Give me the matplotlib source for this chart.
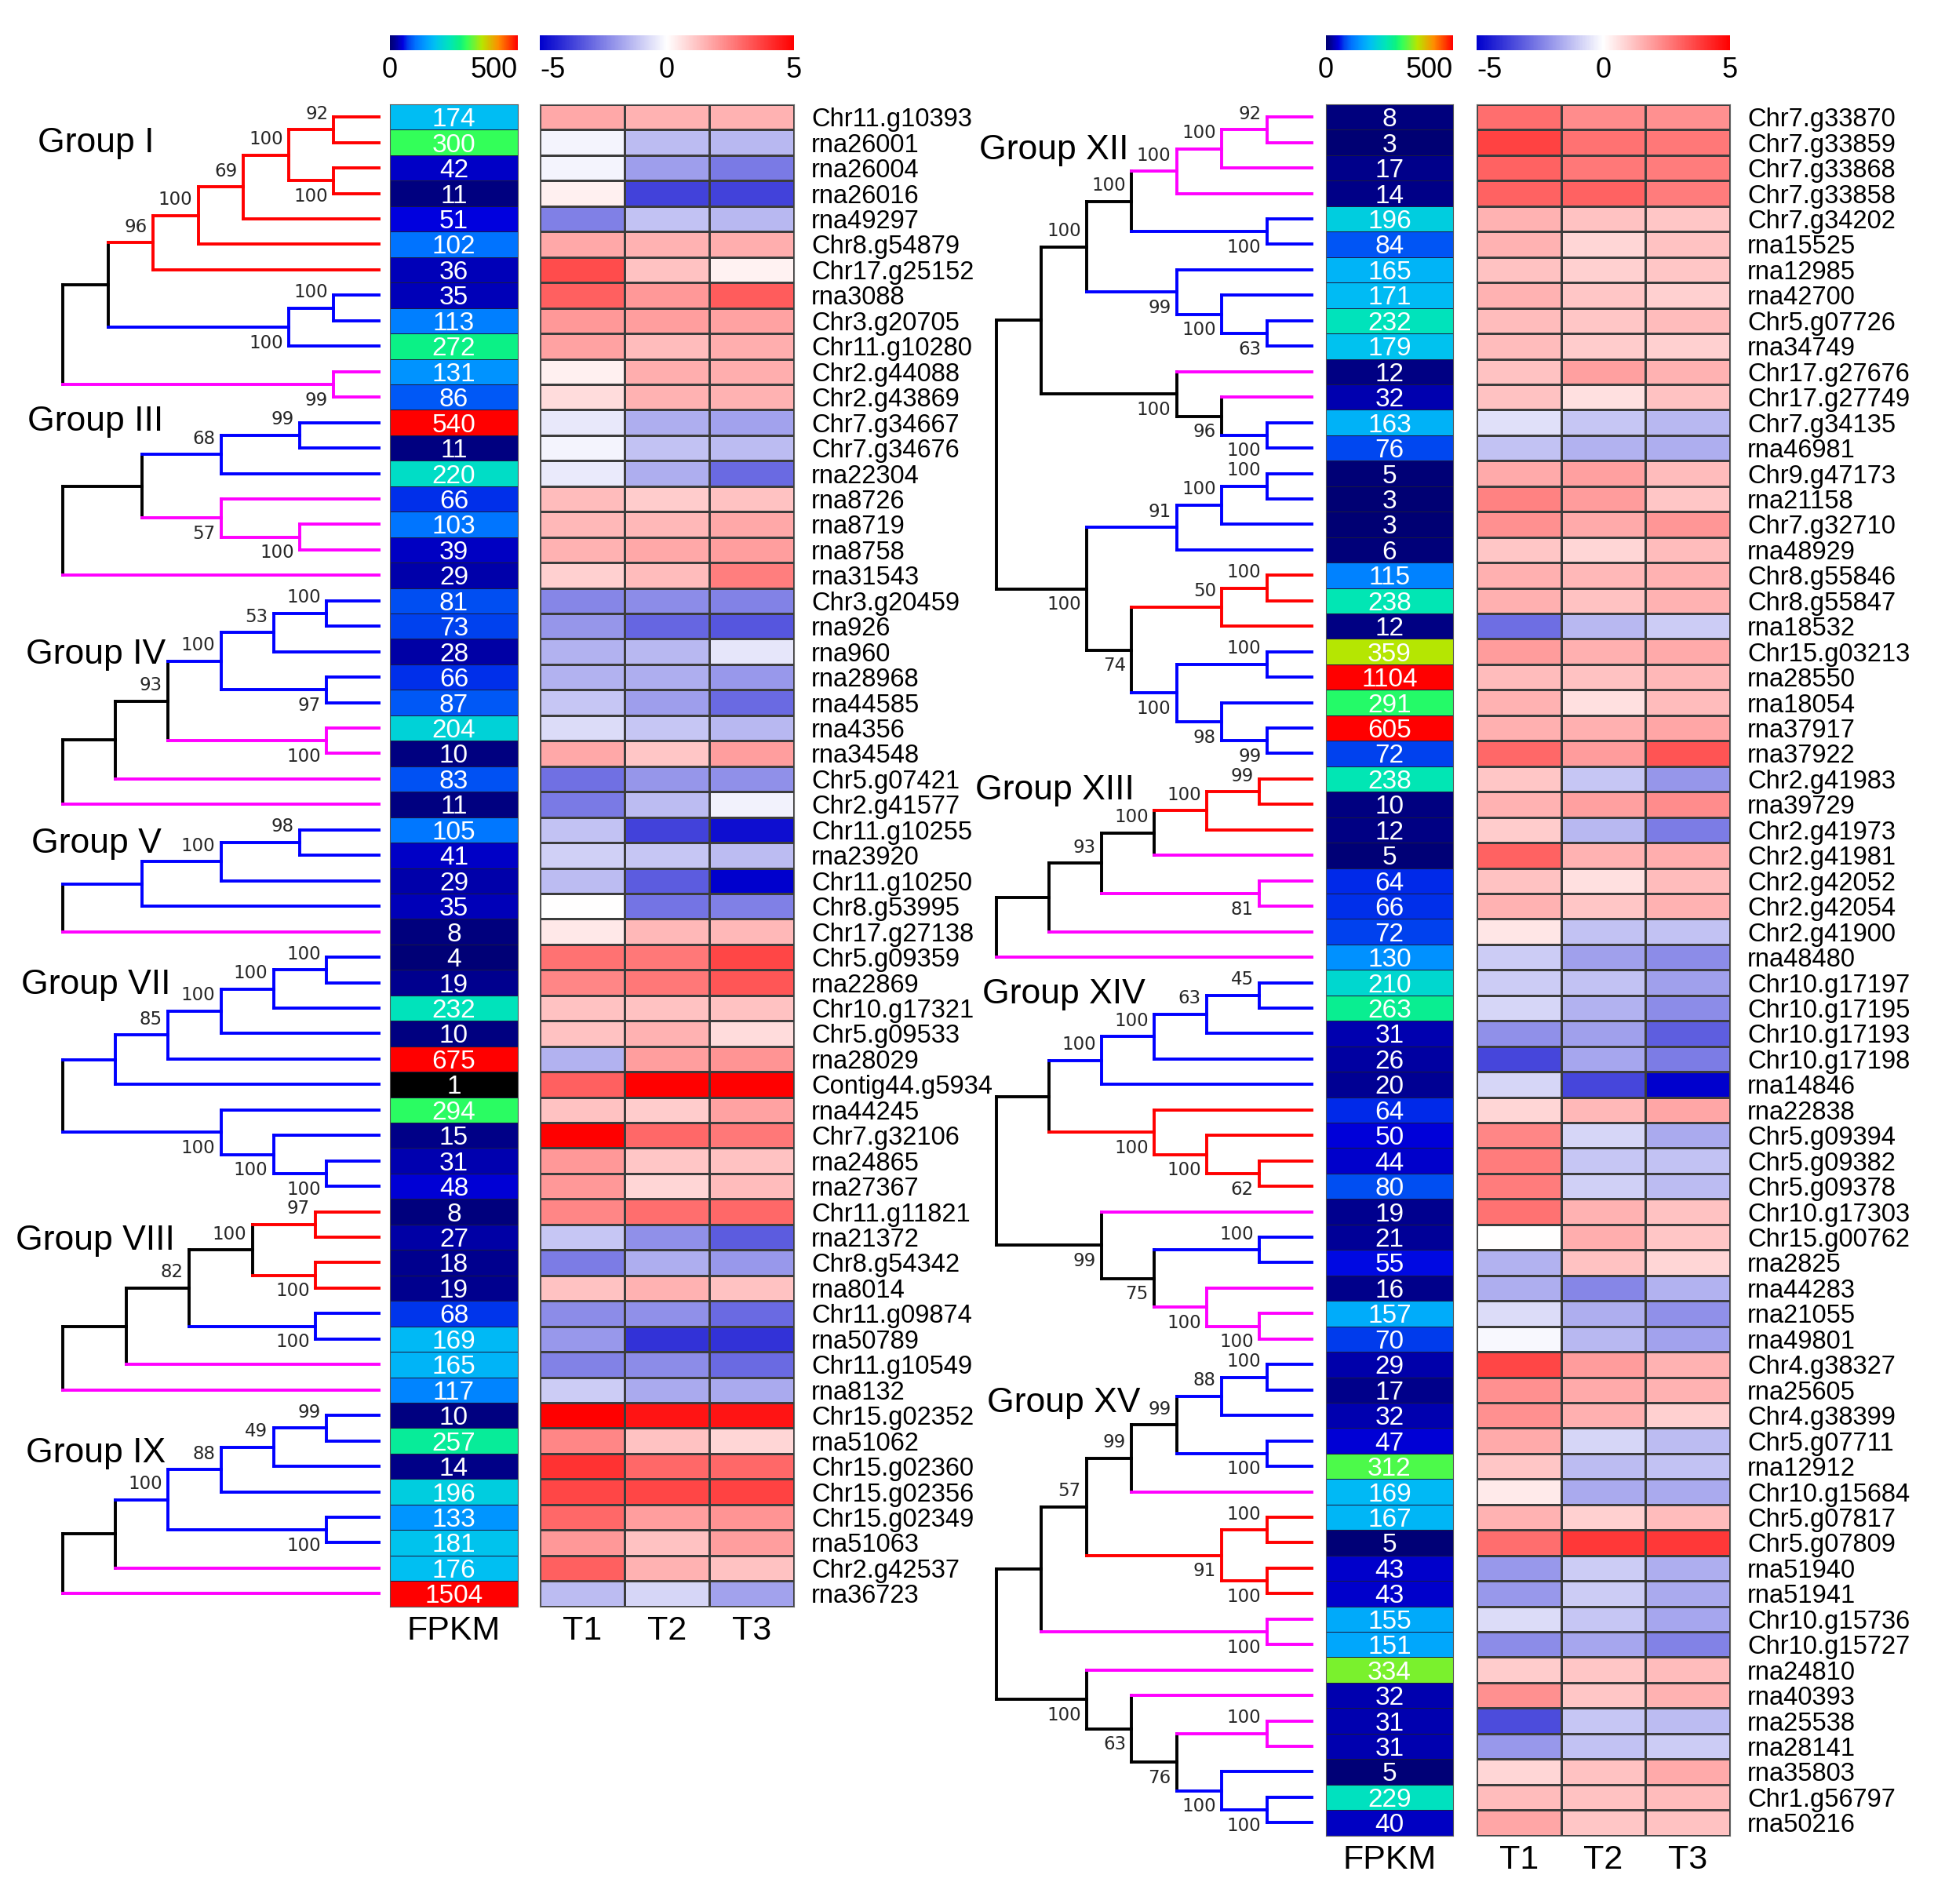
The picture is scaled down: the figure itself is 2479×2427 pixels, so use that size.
import numpy as np
import matplotlib
matplotlib.use('Agg')
import matplotlib.pyplot as plt
from matplotlib.colors import LinearSegmentedColormap, Normalize
from matplotlib.cm import ScalarMappable

plt.rcParams['font.family'] = ['Liberation Sans', 'DejaVu Sans']

# ---------------- left panel data ----------------
genes_L = ['Chr11.g10393', 'rna26001', 'rna26004', 'rna26016', 'rna49297', 'Chr8.g54879',
           'Chr17.g25152', 'rna3088', 'Chr3.g20705', 'Chr11.g10280', 'Chr2.g44088', 'Chr2.g43869',
           'Chr7.g34667', 'Chr7.g34676', 'rna22304', 'rna8726', 'rna8719', 'rna8758', 'rna31543',
           'Chr3.g20459', 'rna926', 'rna960', 'rna28968', 'rna44585', 'rna4356', 'rna34548',
           'Chr5.g07421', 'Chr2.g41577', 'Chr11.g10255', 'rna23920', 'Chr11.g10250', 'Chr8.g53995',
           'Chr17.g27138', 'Chr5.g09359', 'rna22869', 'Chr10.g17321', 'Chr5.g09533', 'rna28029',
           'Contig44.g5934', 'rna44245', 'Chr7.g32106', 'rna24865', 'rna27367', 'Chr11.g11821',
           'rna21372', 'Chr8.g54342', 'rna8014', 'Chr11.g09874', 'rna50789', 'Chr11.g10549',
           'rna8132', 'Chr15.g02352', 'rna51062', 'Chr15.g02360', 'Chr15.g02356', 'Chr15.g02349',
           'rna51063', 'Chr2.g42537', 'rna36723']
fpkm_L = [174, 300, 42, 11, 51, 102, 36, 35, 113, 272, 131, 86, 540, 11, 220, 66, 103, 39, 29,
          81, 73, 28, 66, 87, 204, 10, 83, 11, 105, 41, 29, 35, 8, 4, 19, 232, 10, 675, 1, 294,
          15, 31, 48, 8, 27, 18, 19, 68, 169, 165, 117, 10, 257, 14, 196, 133, 181, 176, 1504]
T1_L = [1.7, -0.2, -0.2, 0.3, -2.5, 1.7, 3.5, 3.1, 2.0, 1.8,
        0.3, 0.7, -0.45, -0.2, -0.4, 1.3, 1.4, 1.5, 0.9, -2.35,
        -2.05, -1.5, -1.5, -1.1, -0.7, 1.7, -2.8, -2.6, -1.2, -0.9,
        -1.3, 0.0, 0.45, 2.75, 2.35, 1.2, 1.2, -1.5, 3.1, 1.2,
        5.0, 2.0, 2.0, 2.35, -1.1, -2.55, 1.2, -2.25, -2.0, -2.45,
        -1.0, 5.0, 2.35, 4.0, 3.6, 2.95, 2.0, 3.1, -1.3]
T2_L = [1.5, -1.3, -1.9, -3.7, -1.2, 1.5, 1.2, 2.0, 1.9, 1.3,
        1.6, 1.5, -1.6, -1.2, -1.6, 1.0, 1.4, 1.7, 1.3, -2.25,
        -3.0, -1.4, -1.6, -1.9, -1.1, 1.1, -2.05, -1.3, -3.7, -1.1,
        -3.2, -2.7, 1.4, 2.65, 2.65, 1.2, 1.5, 1.9, 5.0, 1.0,
        2.95, 1.1, 0.8, 2.85, -2.15, -1.6, 1.5, -2.15, -4.0, -2.25,
        -1.65, 4.6, 1.2, 2.95, 3.6, 1.9, 1.2, 1.5, -0.8]
T3_L = [1.5, -1.4, -2.6, -3.7, -1.4, 1.6, 0.25, 3.2, 1.8, 1.6,
        1.6, 1.5, -1.8, -1.3, -2.9, 1.2, 1.7, 1.9, 2.5, -2.45,
        -3.3, -0.5, -2.0, -2.9, -1.4, 1.9, -2.15, -0.25, -4.7, -1.3,
        -5.0, -2.5, 1.4, 3.6, 3.3, 1.2, 0.7, 2.1, 5.0, 1.8,
        2.65, 1.2, 1.3, 2.95, -3.2, -2.0, 1.2, -2.9, -4.0, -2.9,
        -1.65, 4.6, 0.8, 2.95, 3.7, 2.1, 1.9, 1.2, -1.8]

# trees: [branch colour, bootstrap, child, child]; a bare letter is a leaf
tree_I = ['k', None,
          ['k', None,
           ['r', 96, ['r', 100, ['r', 69, ['r', 100, ['r', 92, 'r', 'r'], ['r', 100, 'r', 'r']], 'r'], 'r'], 'r'],
           ['b', 100, ['b', 100, 'b', 'b'], 'b']],
          ['m', 99, 'm', 'm']]
tree_III = ['k', None,
            ['k', None, ['b', 68, ['b', 99, 'b', 'b'], 'b'], ['m', 57, 'm', ['m', 100, 'm', 'm']]],
            'm']
tree_IV = ['k', None,
           ['k', None,
            ['k', 93, ['b', 100, ['b', 53, ['b', 100, 'b', 'b'], 'b'], ['b', 97, 'b', 'b']], ['m', 100, 'm', 'm']],
            'm'],
           'm']
tree_V = ['k', None, ['b', None, ['b', 100, ['b', 98, 'b', 'b'], 'b'], 'b'], 'm']
tree_VII = ['k', None,
            ['b', None, ['b', 85, ['b', 100, ['b', 100, ['b', 100, 'b', 'b'], 'b'], 'b'], 'b'], 'b'],
            ['b', 100, 'b', ['b', 100, 'b', ['b', 100, 'b', 'b']]]]
tree_VIII = ['k', None,
             ['k', None,
              ['k', 82, ['k', 100, ['r', 97, 'r', 'r'], ['r', 100, 'r', 'r']], ['b', 100, 'b', 'b']],
              'm'],
             'm']
tree_IX = ['k', None,
           ['k', None,
            ['b', 100, ['b', 88, ['b', 49, ['b', 99, 'b', 'b'], 'b'], 'b'], ['b', 100, 'b', 'b']],
            'm'],
           'm']
groups_L = [('Group I', tree_I), ('Group III', tree_III), ('Group IV', tree_IV), ('Group V', tree_V),
            ('Group VII', tree_VII), ('Group VIII', tree_VIII), ('Group IX', tree_IX)]
gpos_L = [(-0.079, 1.54), (-0.112, 12.48), (-0.117, 21.63), (-0.099, 29.03),
          (-0.132, 34.58), (-0.149, 44.65), (-0.117, 53.0)]

# ---------------- right panel data ----------------
genes_R = ['Chr7.g33870', 'Chr7.g33859', 'Chr7.g33868', 'Chr7.g33858', 'Chr7.g34202', 'rna15525',
           'rna12985', 'rna42700', 'Chr5.g07726', 'rna34749', 'Chr17.g27676', 'Chr17.g27749',
           'Chr7.g34135', 'rna46981', 'Chr9.g47173', 'rna21158', 'Chr7.g32710', 'rna48929',
           'Chr8.g55846', 'Chr8.g55847', 'rna18532', 'Chr15.g03213', 'rna28550', 'rna18054',
           'rna37917', 'rna37922', 'Chr2.g41983', 'rna39729', 'Chr2.g41973', 'Chr2.g41981',
           'Chr2.g42052', 'Chr2.g42054', 'Chr2.g41900', 'rna48480', 'Chr10.g17197', 'Chr10.g17195',
           'Chr10.g17193', 'Chr10.g17198', 'rna14846', 'rna22838', 'Chr5.g09394', 'Chr5.g09382',
           'Chr5.g09378', 'Chr10.g17303', 'Chr15.g00762', 'rna2825', 'rna44283', 'rna21055',
           'rna49801', 'Chr4.g38327', 'rna25605', 'Chr4.g38399', 'Chr5.g07711', 'rna12912',
           'Chr10.g15684', 'Chr5.g07817', 'Chr5.g07809', 'rna51940', 'rna51941', 'Chr10.g15736',
           'Chr10.g15727', 'rna24810', 'rna40393', 'rna25538', 'rna28141', 'rna35803',
           'Chr1.g56797', 'rna50216']
fpkm_R = [8, 3, 17, 14, 196, 84, 165, 171, 232, 179, 12, 32, 163, 76, 5, 3, 3, 6, 115, 238,
          12, 359, 1104, 291, 605, 72, 238, 10, 12, 5, 64, 66, 72, 130, 210, 263, 31, 26, 20,
          64, 50, 44, 80, 19, 21, 55, 16, 157, 70, 29, 17, 32, 47, 312, 169, 167, 5, 43, 43,
          155, 151, 334, 32, 31, 31, 5, 229, 40]
T1_R = [2.85, 3.7, 3.05, 3.05, 1.5, 1.5, 1.2, 1.5, 1.3, 1.3,
        1.2, 1.2, -0.6, -1.2, 1.65, 2.45, 2.15, 1.1, 1.55, 1.55,
        -2.85, 1.95, 1.3, 1.5, 1.55, 2.95, 1.1, 1.5, 1.0, 3.05,
        1.2, 1.5, 0.5, -1.0, -1.0, -0.8, -2.15, -3.6, -0.8, 0.8,
        2.35, 2.55, 2.55, 2.75, 0.0, -1.5, -1.6, -0.7, -0.15, 3.6,
        2.15, 2.15, 1.65, 1.1, 0.4, 1.5, 2.85, -2.0, -2.0, -0.7,
        -2.25, 1.0, 2.15, -3.5, -2.0, 0.8, 1.3, 1.75]
T2_R = [2.25, 2.75, 2.65, 3.05, 1.2, 0.8, 0.9, 1.1, 1.1, 1.0,
        1.85, 0.6, -1.1, -1.5, 1.85, 1.95, 1.65, 0.8, 1.4, 1.2,
        -1.4, 1.55, 1.2, 0.6, 1.55, 1.95, -1.1, 1.85, -1.4, 1.5,
        0.6, 1.1, -1.2, -1.85, -1.2, -1.5, -1.85, -1.75, -3.6, 1.4,
        -0.8, -1.1, -0.9, 1.5, 1.6, 1.2, -2.35, -1.6, -1.4, 1.95,
        1.65, 1.55, -0.8, -1.3, -1.65, 0.9, 3.9, -1.0, -1.0, -1.1,
        -1.75, 1.1, 1.1, -1.1, -1.2, 1.2, 1.2, 1.1]
T3_R = [2.15, 2.65, 2.55, 2.55, 1.1, 1.2, 1.1, 0.9, 1.3, 0.9,
        1.5, 1.2, -1.4, -1.6, 1.3, 1.1, 2.05, 1.3, 1.5, 1.5,
        -1.0, 1.65, 1.4, 1.3, 1.75, 3.35, -2.05, 2.25, -2.55, 1.6,
        1.3, 1.5, -1.2, -2.25, -1.85, -2.25, -3.15, -2.55, -5.0, 1.75,
        -1.65, -1.2, -1.3, 1.2, 1.1, 0.8, -1.5, -2.15, -1.8, 1.5,
        1.5, 0.9, -1.3, -1.2, -1.65, 1.3, 3.9, -1.6, -1.65, -1.75,
        -2.45, 1.3, 1.5, -1.3, -1.0, 1.65, 1.3, 1.2]

tree_XII = ['k', None,
            ['k', None,
             ['k', 100,
              ['k', 100, ['m', 100, ['m', 100, ['m', 92, 'm', 'm'], 'm'], 'm'], ['b', 100, 'b', 'b']],
              ['b', 99, 'b', ['b', 100, 'b', ['b', 63, 'b', 'b']]]],
             ['k', 100, 'm', ['k', 96, 'm', ['b', 100, 'b', 'b']]]],
            ['k', 100,
             ['b', 91, ['b', 100, ['b', 100, 'b', 'b'], 'b'], 'b'],
             ['k', 74,
              ['r', 50, ['r', 100, 'r', 'r'], 'r'],
              ['b', 100, ['b', 100, 'b', 'b'], ['b', 98, 'b', ['b', 99, 'b', 'b']]]]]]
tree_XIII = ['k', None,
             ['k', None,
              ['k', 93, ['k', 100, ['r', 100, ['r', 99, 'r', 'r'], 'r'], 'm'], ['m', 81, 'm', 'm']],
              'm'],
             'm']
tree_XIV = ['k', None,
            ['k', None,
             ['b', 100, ['b', 100, ['b', 63, ['b', 45, 'b', 'b'], 'b'], 'b'], 'b'],
             ['r', 100, 'r', ['r', 100, 'r', ['r', 62, 'r', 'r']]]],
            ['k', 99, 'm', ['k', 75, ['b', 100, 'b', 'b'], ['m', 100, 'm', ['m', 100, 'm', 'm']]]]]
tree_XV = ['k', None,
           ['k', None,
            ['k', 57,
             ['k', 99, ['k', 99, ['b', 88, ['b', 100, 'b', 'b'], 'b'], ['b', 100, 'b', 'b']], 'm'],
             ['r', 91, ['r', 100, 'r', 'r'], ['r', 100, 'r', 'r']]],
            ['m', 100, 'm', 'm']],
           ['k', 100, 'm', ['k', 63, 'm', ['k', 76, ['m', 100, 'm', 'm'], ['b', 100, 'b', ['b', 100, 'b', 'b']]]]]]
groups_R = [('Group XII', tree_XII), ('Group XIII', tree_XIII), ('Group XIV', tree_XIV), ('Group XV', tree_XV)]
gpos_R = [(-0.055, 1.79), (-0.067, 26.96), (-0.045, 34.95), (-0.03, 51.03)]

# ---------------- styling ----------------
W, H = 2479, 2427
TOP, ROW = 133, 32.45
LINE = {'k': '#000000', 'r': '#ff0000', 'b': '#0000ff', 'm': '#ff00ff'}
LW = 2.8

fpkm_cmap = LinearSegmentedColormap.from_list('fpkm', [
    (0.00, (0.0, 0.0, 0.45)), (0.03, (0.0, 0.0, 0.55)), (0.10, (0.0, 0.0, 0.88)),
    (0.14, (0.0, 0.25, 0.93)), (0.20, (0.0, 0.45, 1.0)), (0.28, (0.0, 0.62, 1.0)),
    (0.35, (0.0, 0.75, 0.95)), (0.40, (0.0, 0.82, 0.85)), (0.47, (0.0, 0.9, 0.72)),
    (0.55, (0.05, 0.95, 0.5)), (0.60, (0.2, 1.0, 0.35)), (0.66, (0.45, 0.95, 0.2)),
    (0.72, (0.72, 0.9, 0.0)), (0.85, (1.0, 0.55, 0.0)), (1.00, (1.0, 0.0, 0.0))])
fpkm_cmap.set_under('black')
expr_cmap = LinearSegmentedColormap.from_list('expr', ['#0000cd', '#ffffff', '#ff0000'])

fig = plt.figure(figsize=(W / 100, H / 100), dpi=100)


def add_ax(x0, x1, y0, y1):
    return fig.add_axes([x0 / W, 1 - y1 / H, (x1 - x0) / W, (y1 - y0) / H])


def build(node, pos):
    if isinstance(node, str):
        y = pos[0] + 0.5
        pos[0] += 1
        return dict(y=y, h=0, c=node, lab=None, kids=[])
    kids = [build(k, pos) for k in node[2:]]
    return dict(y=(kids[0]['y'] + kids[-1]['y']) / 2, h=max(k['h'] for k in kids) + 1,
                c=node[0], lab=node[1], kids=kids)


def draw(ax, nd, top_h, px=None, side=0):
    x = 1 - nd['h'] / top_h
    col = LINE[nd['c']]
    if px is not None:
        ax.plot([px, x], [nd['y'], nd['y']], color=col, lw=LW, solid_capstyle='projecting', clip_on=False)
        if nd['lab'] is not None:
            ax.text(x - 0.018, nd['y'] + (0.62 if side else -0.62), str(nd['lab']), ha='right',
                    va='center', fontsize=16.5, family='DejaVu Sans', color='#262626')
    if nd['kids']:
        ax.plot([x, x], [nd['kids'][0]['y'], nd['kids'][-1]['y']], color=col, lw=LW,
                solid_capstyle='projecting', clip_on=False)
        for i, k in enumerate(nd['kids']):
            draw(ax, k, top_h, x, i)


def panel(xt, xf, xh, genes, fpkm, t1, t2, t3, groups, gpos):
    n = len(genes)
    y0, y1 = TOP, TOP + n * ROW

    # dendrogram
    axt = add_ax(xt[0], xt[1], y0, y1)
    pos = [0]
    for (name, tree), (gx, gy) in zip(groups, gpos):
        root = build(tree, pos)
        draw(axt, root, root['h'])
        axt.text(gx, gy, name, ha='left', va='center', fontsize=32)
    axt.set_xlim(0, 1)
    axt.set_ylim(n, 0)
    axt.axis('off')

    # FPKM column
    axf = add_ax(xf[0], xf[1], y0, y1)
    axf.pcolormesh(np.array(fpkm, float).reshape(-1, 1), cmap=fpkm_cmap, norm=Normalize(1.5, 500),
                   edgecolors='#1a1a40', linewidth=0.6)
    for i, v in enumerate(fpkm):
        axf.text(0.5, i + 0.5, str(v), ha='center', va='center_baseline', color='white', fontsize=24)
    axf.set_xlim(0, 1)
    axf.set_ylim(n, 0)
    axf.set_yticks([])
    axf.set_xticks([0.5])
    axf.set_xticklabels(['FPKM'], fontsize=31)
    axf.tick_params(axis='x', length=0, pad=8)
    for s in axf.spines.values():
        s.set_color('#555555')

    # relative expression heatmap
    axh = add_ax(xh[0], xh[1], y0, y1)
    mat = np.column_stack([t1, t2, t3])
    axh.pcolormesh(mat, cmap=expr_cmap, vmin=-5, vmax=5, edgecolors='#3c3c3c', linewidth=1.0)
    axh.set_ylim(n, 0)
    axh.set_xticks([0.5, 1.5, 2.5])
    axh.set_xticklabels(['T1', 'T2', 'T3'], fontsize=31)
    axh.yaxis.tick_right()
    axh.set_yticks(np.arange(n) + 0.5)
    axh.set_yticklabels(genes, fontsize=23.5)
    axh.tick_params(length=0)
    axh.tick_params(axis='y', pad=16)
    axh.tick_params(axis='x', pad=8)
    for s in axh.spines.values():
        s.set_color('#666666')

    # colour bars
    cf = add_ax(xf[0], xf[1], 45, 64)
    cb = fig.colorbar(ScalarMappable(Normalize(0, 500), fpkm_cmap), cax=cf,
                      orientation='horizontal', ticks=[0, 500])
    cb.outline.set_visible(False)
    cf.tick_params(length=0, labelsize=26, pad=6)
    cf.set_xticklabels(['0', '500'])
    cf.get_xticklabels()[1].set_ha('right')

    ce = add_ax(xh[0], xh[1], 45, 64)
    cb2 = fig.colorbar(ScalarMappable(Normalize(-5, 5), expr_cmap), cax=ce,
                       orientation='horizontal', ticks=[-5, 0, 5])
    cb2.outline.set_visible(False)
    ce.tick_params(length=0, labelsize=26, pad=6)
    ce.set_xticklabels(['-5', '0', '5'])
    ce.get_xticklabels()[0].set_ha('left')


panel((80, 483), (497, 660), (688, 1012), genes_L, fpkm_L, T1_L, T2_L, T3_L, groups_L, gpos_L)
panel((1270, 1672), (1690, 1852), (1882, 2205), genes_R, fpkm_R, T1_R, T2_R, T3_R, groups_R, gpos_R)

fig.savefig('out.png', dpi=100, facecolor='white')
